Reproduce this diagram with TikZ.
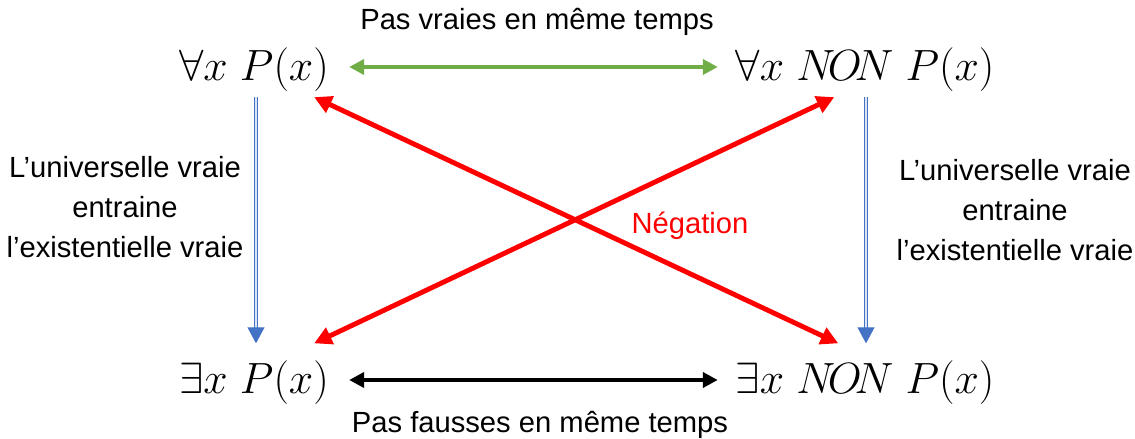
\documentclass[tikz,border=0pt]{standalone}
\usepackage{fontspec}
\setmainfont{Liberation Sans}
\usetikzlibrary{arrows.meta}
\definecolor{vgreen}{HTML}{70AD47}
\definecolor{vblue}{HTML}{4472C4}
\definecolor{vred}{HTML}{FF0000}
\tikzset{
  mathnode/.style={inner sep=0pt, font=\fontsize{24}{28}\selectfont},
  lbl/.style={inner sep=0pt, font=\fontsize{16.6}{22.7}\selectfont, align=center},
  greenarrow/.style={draw=vgreen, line width=2.2pt, {Triangle[length=0.3cm,width=0.3cm]}-{Triangle[length=0.3cm,width=0.3cm]}},
  blackarrow/.style={draw=black, line width=2.2pt, {Triangle[length=0.3cm,width=0.3cm]}-{Triangle[length=0.3cm,width=0.3cm]}},
  redarrow/.style={draw=vred, line width=2.8pt, {Triangle[length=0.35cm,width=0.35cm]}-{Triangle[length=0.35cm,width=0.35cm]}},
  bluearrow/.style={draw=vblue, line width=0.6pt, double=white!80!vblue, double distance=1.3pt, -{Triangle[length=0.32cm,width=0.34cm]}}
}
\begin{document}
\begin{tikzpicture}
\useasboundingbox (0,0) rectangle (22.7,8.78);
\node[mathnode] (A) at (5.08,7.38) {$\forall x\; P(x)$};
\node[mathnode] (B) at (17.3,7.38) {$\forall x\; N\!O\!N\; P(x)$};
\node[mathnode] (C) at (5.08,1.12) {$\exists x\; P(x)$};
\node[mathnode] (D) at (17.3,1.12) {$\exists x\; N\!O\!N\; P(x)$};
\node[lbl] (T) at (10.74,8.34) {Pas vraies en même temps};
\node[lbl] (Bo) at (10.8,0.28) {Pas fausses en même temps};
\node[lbl] (L) at (2.5,4.64) {L’universelle vraie\\entraine\\l’existentielle vraie};
\node[lbl] (R) at (20.3,4.58) {L’universelle vraie\\entraine\\l’existentielle vraie};
\node[lbl, text=vred] (N) at (13.8,4.26) {Négation};
\draw[greenarrow] ([xshift=0.4cm,yshift=0.06cm]A.east) -- ([xshift=-0.35cm,yshift=0.06cm]B.west);
\draw[blackarrow] ([xshift=0.4cm,yshift=0.06cm]C.east) -- ([xshift=-0.35cm,yshift=0.06cm]D.west);
\draw[bluearrow] ([xshift=0.04cm,yshift=-0.1cm]A.south) -- ([xshift=0.04cm,yshift=0.35cm]C.north);
\draw[bluearrow] ([xshift=0.02cm,yshift=-0.1cm]B.south) -- ([xshift=0.02cm,yshift=0.35cm]D.north);
\draw[redarrow] ([xshift=-0.3cm,yshift=-0.1cm]A.south east) -- ([xshift=2.06cm,yshift=0.35cm]D.north west);
\draw[redarrow] ([xshift=1.98cm,yshift=-0.1cm]B.south west) -- ([xshift=-0.3cm,yshift=0.35cm]C.north east);
\end{tikzpicture}
\end{document}
